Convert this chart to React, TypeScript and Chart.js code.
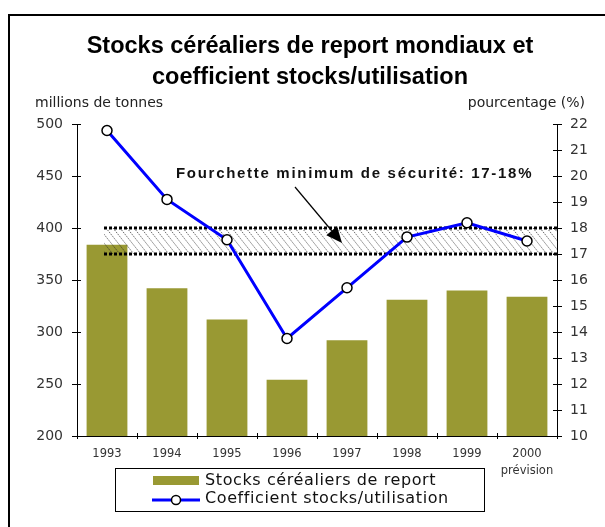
import React, { useEffect, useRef } from "react";
import { Chart, registerables } from "chart.js";

Chart.register(...registerables);

const YEARS = ["1993", "1994", "1995", "1996", "1997", "1998", "1999", "2000"];
const STOCKS = [384, 342, 312, 254, 292, 331, 340, 334];
const RATIO = [21.75, 19.1, 17.55, 13.75, 15.7, 17.65, 18.2, 17.5];
const BAND = [17, 18];
const TITLE_LINES = ["Stocks céréaliers de report mondiaux et", "coefficient stocks/utilisation"];
const LEFT_TITLE = "millions de tonnes";
const RIGHT_TITLE = "pourcentage (%)";
const NOTE = "Fourchette minimum de sécurité: 17-18%";
const BAR_LABEL = "Stocks céréaliers de report";
const LINE_LABEL = "Coefficient stocks/utilisation";
const SUBLABEL = "prévision";

const OLIVE = "#999933";
const BLUE = "#0000ff";
const TICK_FONT = "DejaVu Sans";
const TEXT_FONT = "Liberation Sans";

const decor = {
  id: "decor",
  afterDatasetDraw(chart: any, args: any) {
    if (chart.data.datasets[args.index].type !== "bar") return;
    const ctx = chart.ctx;
    const x = chart.scales.x;
    const y1 = chart.scales.y1;
    const top = y1.getPixelForValue(BAND[1]);
    const bot = y1.getPixelForValue(BAND[0]);
    const left = x.getPixelForValue(0) - 3;
    const right = chart.chartArea.right;
    ctx.save();
    ctx.beginPath();
    ctx.rect(left, top, right - left, bot - top);
    ctx.clip();
    ctx.strokeStyle = "#222";
    ctx.lineWidth = 1;
    ctx.setLineDash([1, 1.5]);
    const h = bot - top;
    for (let xx = left - 40; xx < right + 10; xx += 7) {
      ctx.beginPath();
      ctx.moveTo(xx, top);
      ctx.lineTo(xx + h * 0.8, bot);
      ctx.stroke();
    }
    ctx.restore();
    ctx.save();
    ctx.strokeStyle = "#000";
    ctx.lineWidth = 3;
    ctx.setLineDash([3, 2]);
    for (const yy of [top, bot]) {
      ctx.beginPath();
      ctx.moveTo(left, yy);
      ctx.lineTo(right, yy);
      ctx.stroke();
    }
    ctx.restore();
  },
  afterDraw(chart: any) {
    const ctx = chart.ctx;
    const { left, right, top, bottom } = chart.chartArea;
    const x = chart.scales.x;
    const y = chart.scales.y;
    const y1 = chart.scales.y1;
    ctx.save();
    // frame
    ctx.fillStyle = "#000";
    ctx.fillRect(9, 14, chart.width - 9, 2);
    ctx.fillRect(8, 14, 2, chart.height - 14);

    // tick marks
    ctx.strokeStyle = "#000";
    ctx.lineWidth = 1;
    ctx.beginPath();
    for (let v = 200; v <= 500; v += 50) {
      const py = Math.round(y.getPixelForValue(v)) + 0.5;
      ctx.moveTo(left - 5, py);
      ctx.lineTo(left + 4, py);
    }
    for (let v = 10; v <= 22; v += 1) {
      const py = Math.round(y1.getPixelForValue(v)) + 0.5;
      ctx.moveTo(right - 4, py);
      ctx.lineTo(right + 5, py);
    }
    const cw = (right - left) / YEARS.length;
    for (let i = 0; i <= YEARS.length; i++) {
      const px = Math.round(x.getPixelForValue(0) - cw / 2 + i * cw) + 0.5;
      ctx.moveTo(px, bottom - 3);
      ctx.lineTo(px, bottom + 3);
    }
    ctx.moveTo(left - 2, Math.round(bottom) + 0.5);
    ctx.lineTo(right + 3, Math.round(bottom) + 0.5);
    ctx.stroke();

    // title
    ctx.fillStyle = "#000";
    ctx.textAlign = "center";
    ctx.textBaseline = "middle";
    ctx.font = `bold 23.5px "${TEXT_FONT}"`;
    ctx.fillText(TITLE_LINES[0], 310, 47);
    ctx.fillText(TITLE_LINES[1], 310, 78);

    // axis titles
    ctx.fillStyle = "#222";
    ctx.font = `14px "${TICK_FONT}"`;
    ctx.textAlign = "left";
    ctx.fillText(LEFT_TITLE, 35, 103);
    ctx.textAlign = "right";
    ctx.fillText(RIGHT_TITLE, 585, 103);

    // sub label
    ctx.textAlign = "center";
    ctx.font = `11.5px "${TICK_FONT}"`;
    ctx.fillStyle = "#333";
    ctx.fillText(SUBLABEL, x.getPixelForValue(7), 471);

    // annotation text
    ctx.fillStyle = "#111";
    ctx.textAlign = "left";
    ctx.font = `bold 15px "${TEXT_FONT}"`;
    (ctx as any).letterSpacing = "1.7px";
    ctx.fillText(NOTE, 176, 174);
    (ctx as any).letterSpacing = "0px";

    // arrow
    const ax0 = 295, ay0 = 187, ax1 = 342, ay1 = 243;
    const ang = Math.atan2(ay1 - ay0, ax1 - ax0);
    const hl = 16, hw = 7;
    const bx = ax1 - hl * Math.cos(ang), by = ay1 - hl * Math.sin(ang);
    ctx.strokeStyle = "#000";
    ctx.lineWidth = 1.2;
    ctx.beginPath();
    ctx.moveTo(ax0, ay0);
    ctx.lineTo(bx, by);
    ctx.stroke();
    ctx.fillStyle = "#000";
    ctx.beginPath();
    ctx.moveTo(ax1, ay1);
    ctx.lineTo(bx + hw * Math.sin(ang), by - hw * Math.cos(ang));
    ctx.lineTo(bx - hw * Math.sin(ang), by + hw * Math.cos(ang));
    ctx.closePath();
    ctx.fill();

    // legend
    ctx.strokeStyle = "#000";
    ctx.lineWidth = 1;
    ctx.strokeRect(115.5, 468.5, 369, 43);
    ctx.fillStyle = OLIVE;
    ctx.fillRect(153, 476, 46, 9);
    ctx.strokeStyle = BLUE;
    ctx.lineWidth = 3;
    ctx.beginPath();
    ctx.moveTo(152, 500);
    ctx.lineTo(200, 500);
    ctx.stroke();
    ctx.fillStyle = "#fff";
    ctx.strokeStyle = "#000";
    ctx.lineWidth = 1.5;
    ctx.beginPath();
    ctx.arc(176, 500, 4.5, 0, Math.PI * 2);
    ctx.fill();
    ctx.stroke();
    ctx.fillStyle = "#111";
    ctx.font = `16px "${TICK_FONT}"`;
    ctx.textAlign = "left";
    (ctx as any).letterSpacing = "0.6px";
    ctx.fillText(BAR_LABEL, 205, 481);
    ctx.fillText(LINE_LABEL, 205, 499);
    (ctx as any).letterSpacing = "0px";
    ctx.restore();
  },
};

export default function App() {
  const ref = useRef<HTMLCanvasElement | null>(null);
  useEffect(() => {
    document.body.style.margin = "0";
    const canvas = ref.current!;
    const chart = new Chart(canvas, {
      type: "bar",
      data: {
        labels: YEARS,
        datasets: [
          {
            type: "bar",
            label: BAR_LABEL,
            data: STOCKS,
            backgroundColor: OLIVE,
            borderWidth: 0,
            categoryPercentage: 1,
            barPercentage: 0.68,
            yAxisID: "y",
            order: 1,
          } as any,
          {
            type: "line",
            label: LINE_LABEL,
            data: RATIO,
            borderColor: BLUE,
            borderWidth: 3,
            pointRadius: 5,
            pointBackgroundColor: "#fff",
            pointBorderColor: "#000",
            pointBorderWidth: 1.5,
            tension: 0,
            yAxisID: "y1",
            order: 0,
          } as any,
        ],
      },
      options: {
        responsive: false,
        animation: false,
        layout: { padding: { top: 124, left: 0, right: 0, bottom: 0 } },
        plugins: { legend: { display: false }, title: { display: false }, tooltip: { enabled: false } },
        scales: {
          x: {
            offset: true,
            grid: { display: true, drawOnChartArea: false, drawTicks: false },
            border: { display: false },
            ticks: { color: "#333", font: { family: TICK_FONT, size: 11.5 }, padding: 11, maxRotation: 0 },
            afterFit: (s: any) => { s.height = 91; },
          },
          y: {
            position: "left",
            min: 200,
            max: 500,
            grid: { display: true, drawOnChartArea: false, drawTicks: false },
            border: { display: true, color: "#000", width: 1 },
            ticks: { stepSize: 50, color: "#333", font: { family: TICK_FONT, size: 14 }, padding: 14 },
            afterFit: (s: any) => { s.width = 77; },
          },
          y1: {
            position: "right",
            min: 10,
            max: 22,
            grid: { display: true, drawOnChartArea: false, drawTicks: false },
            border: { display: true, color: "#000", width: 1 },
            ticks: { stepSize: 1, color: "#333", font: { family: TICK_FONT, size: 14 }, padding: 13 },
            afterFit: (s: any) => { s.width = 48; },
          },
        },
      },
      plugins: [decor],
    });
    return () => chart.destroy();
  }, []);
  return <canvas ref={ref} width={605} height={527} style={{ display: "block", width: 605, height: 527 }} />;
}
